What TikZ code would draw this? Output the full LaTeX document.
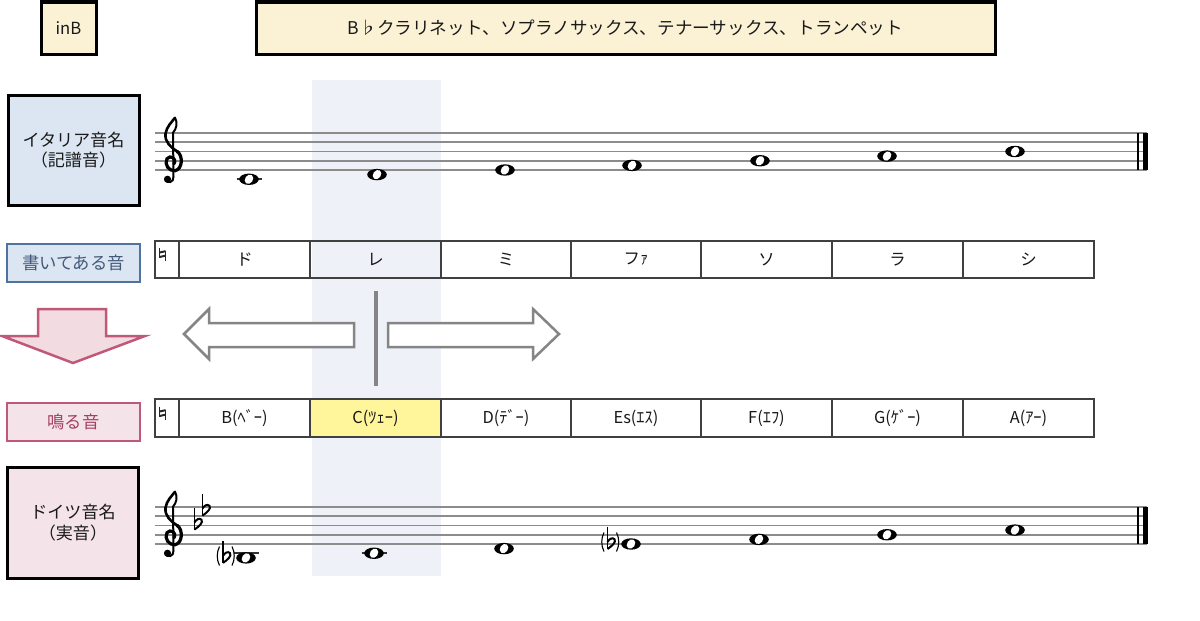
\documentclass[tikz,border=0pt]{standalone}
\usepackage{fontspec}
\setmainfont{Noto Sans CJK JP}
\newlength\PX \setlength\PX{0.75pt}
\definecolor{cream}{HTML}{FBF2D6}
\definecolor{bluebox}{HTML}{DCE6F2}
\definecolor{pinkbox}{HTML}{F4E4EA}
\definecolor{blueborder}{HTML}{4F72A0}
\definecolor{bluetext}{HTML}{43587A}
\definecolor{pinkborder}{HTML}{C0587A}
\definecolor{pinktext}{HTML}{A3405F}
\definecolor{pinkfill}{HTML}{F2DCE2}
\definecolor{band}{HTML}{EEF2F8}
\definecolor{yell}{HTML}{FFF59A}
\definecolor{tablecol}{HTML}{404040}
\definecolor{stafcol}{HTML}{8C8C8C}
\definecolor{arrowgray}{HTML}{858585}
\begin{document}
\begin{tikzpicture}[x=0.75pt,y=-0.75pt,
  topbox/.style={draw=black, line width=3\PX, fill=cream, inner sep=0pt, text=black!90},
  namebox/.style={draw=black, line width=3\PX, minimum width=131\PX, minimum height=110\PX, inner sep=0pt, align=center, font=\fontsize{12.8}{15.5}\selectfont, text=black!90},
  smallbox/.style={line width=2.5\PX, minimum width=133\PX, minimum height=38\PX, inner sep=0pt, font=\fontsize{13}{15}\selectfont},
  cell/.style={draw=tablecol, line width=1.4\PX, minimum width=131\PX, inner sep=0pt, font=\fontsize{12.3}{14}\selectfont, text=black!90},
  natcell/.style={draw=tablecol, line width=1.4\PX, minimum width=24\PX, inner sep=0pt},
  staffline/.style={draw=stafcol, line width=1.6\PX},
  hollow/.style={draw=arrowgray, line width=2.5\PX, fill=white, line join=miter},
  wnote/.pic={\fill[black] (0,0) ellipse[x radius=9.8\PX, y radius=5.7\PX];
              \fill[white, rotate=-35] (0,0) ellipse[x radius=3.9\PX, y radius=5\PX];},
  ledger/.pic={\draw[black!80, line width=1.6\PX] (-12.5,0) -- (12.5,0);},
  natural/.pic={\draw[black!85, line width=1.1\PX] (-3,-6.5) -- (-3,3.5) (3,-3.5) -- (3,6.5);
                \draw[black!85, line width=2\PX] (-3,-1.5) -- (3,-2.8) (-3,3) -- (3,1.7);},
  flatsign/.pic={\draw[black, line width=1.3\PX] (-2.5,-17) -- (-2.5,5);
                 \draw[black, line width=2\PX] (-2.5,5) .. controls (2,2) and (6.5,-2) .. (4.5,-4.8) .. controls (2.5,-7) and (-1,-5) .. (-2.5,-2);},
  parens/.pic={\draw[black, line width=1.1\PX] (-6,-9) .. controls (-9,-3) and (-9,4) .. (-6,10);
               \draw[black, line width=1.1\PX] (6.5,-9) .. controls (9.5,-3) and (9.5,4) .. (6.5,10);},
  gclef/.pic={
    \draw[black, line width=3.2\PX, line cap=round]
      (2,3) .. controls (5,-3) and (-2,-6) .. (-5,-2)
      .. controls (-8,4) and (-3,10.5) .. (3,10)
      .. controls (10.5,8.5) and (11.5,-5) .. (5,-9.5);
    \draw[black, line width=2.6\PX, line cap=round]
      (5,-9.5) .. controls (-1,-13) and (-7.5,-19) .. (-6.5,-27)
      .. controls (-5.5,-34) and (0,-39) .. (3,-43);
    \draw[black, line width=2\PX, line cap=round]
      (3,-43) .. controls (6,-38) and (4.5,-32) .. (1,-28)
      -- (1.5,16) .. controls (2,22) and (-5,23) .. (-6.5,19);
    \fill[black] (-4.5,18.5) circle[radius=3.6\PX];}
]
\useasboundingbox (0,0) rectangle (1200,621);
\fill[white] (0,0) rectangle (1200,621);
% highlight band
\fill[band] (312,80) rectangle (441,576);

% top boxes
\node[topbox, minimum width=55\PX, minimum height=52\PX, font=\fontsize{12.5}{14}\selectfont] (inB) at (68.5,28) {inB};
\node[topbox, minimum width=739\PX, minimum height=52\PX, font=\fontsize{13.2}{15}\selectfont] (title) at (625.5,28) {B♭クラリネット、ソプラノサックス、テナーサックス、トランペット};

% name boxes
\node[namebox, fill=bluebox] (ital) at (73.5,150) {イタリア音名\\（記譜音）};
\node[namebox, fill=pinkbox, minimum height=111\PX] (germ) at (73,522.5) {ドイツ音名\\（実音）};
\node[smallbox, draw=blueborder, fill=bluebox, text=bluetext] (written) at (73.5,263) {書いてある音};
\node[smallbox, draw=pinkborder, fill=pinkbox, text=pinktext] (sound) at (73.5,422) {鳴る音};

% pink down arrow
\draw[draw=pinkborder, fill=pinkfill, line width=2.5\PX, line join=miter]
  (38,309) -- (106,309) -- (106,336) -- (145,336) -- (73,363) -- (2,336) -- (38,336) -- cycle;

% hollow arrows and divider
\draw[hollow] (184,334) -- (209,309) -- (209,323) -- (354,323) -- (354,347) -- (209,347) -- (209,359) -- cycle;
\draw[hollow] (559,334) -- (533,309) -- (533,323) -- (388,323) -- (388,347) -- (533,347) -- (533,359) -- cycle;
\draw[arrowgray, line width=4\PX] (376,291) -- (376,386);

% row 1
\begin{scope}[every node/.append style={minimum height=37\PX}]
\node[natcell] (n1) at (167,259.5) {};
\node[cell] (w1) at (244.5,259.5) {ド};
\node[cell] (w2) at (375.5,259.5) {レ};
\node[cell] (w3) at (506,259.5) {ミ};
\node[cell] (w4) at (636,259.5) {フｧ};
\node[cell] (w5) at (766.5,259.5) {ソ};
\node[cell] (w6) at (897.5,259.5) {ラ};
\node[cell] (w7) at (1028.5,259.5) {シ};
\end{scope}
\pic at (162.5,254) {natural};
% row 2
\begin{scope}[every node/.append style={minimum height=38\PX}]
\node[natcell] (n2) at (167,418) {};
\node[cell] (s1) at (244.5,418) {B(ﾍﾞｰ)};
\node[cell, fill=yell] (s2) at (375.5,418) {C(ﾂｪｰ)};
\node[cell] (s3) at (506,418) {D(ﾃﾞｰ)};
\node[cell] (s4) at (636,418) {Es(ｴｽ)};
\node[cell] (s5) at (766.5,418) {F(ｴﾌ)};
\node[cell] (s6) at (897.5,418) {G(ｹﾞｰ)};
\node[cell] (s7) at (1028.5,418) {A(ｱｰ)};
\end{scope}
\pic at (162.5,413) {natural};

% top staff
\foreach \i in {0,...,4} {\draw[staffline] (155,170-9.25*\i) -- (1147,170-9.25*\i);}
\pic at (172,160.75) {gclef};
\pic at (249,179.25) {ledger};
\pic at (249,179.25) {wnote};
\pic at (377,174.6) {wnote};
\pic at (505,170) {wnote};
\pic at (632,165.4) {wnote};
\pic at (760,160.75) {wnote};
\pic at (887,156.1) {wnote};
\pic at (1015,151.5) {wnote};
\draw[black, line width=1.3\PX] (1138,133) -- (1138,170);
\fill[black] (1143,133) rectangle (1147.5,170);

% bottom staff
\foreach \i in {0,...,4} {\draw[staffline] (155,544-9.25*\i) -- (1147,544-9.25*\i);}
\pic at (172,534.75) {gclef};
\pic at (197,524.5) {flatsign};
\pic at (205,510.6) {flatsign};
\pic at (246,553.25) {ledger};
\pic at (246,557.9) {wnote};
\pic at (225.5,555.5) {parens};
\pic at (225.5,557.9) {flatsign};
\pic at (374,553.25) {ledger};
\pic at (374,553.25) {wnote};
\pic at (504,548.6) {wnote};
\pic at (610,541.5) {parens};
\pic at (610,544) {flatsign};
\pic at (631,544) {wnote};
\pic at (759,539.4) {wnote};
\pic at (887,534.75) {wnote};
\pic at (1015,530.1) {wnote};
\draw[black, line width=1.3\PX] (1138,507) -- (1138,544);
\fill[black] (1143,507) rectangle (1147.5,544);
\end{tikzpicture}
\end{document}
